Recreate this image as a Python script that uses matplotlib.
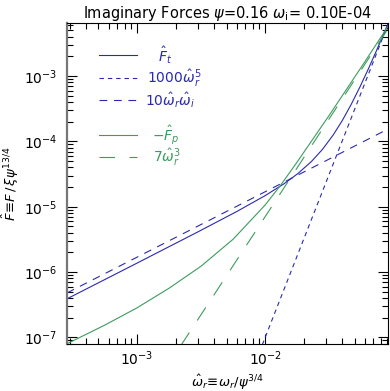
import matplotlib
matplotlib.use("Agg")
import matplotlib.pyplot as plt

plt.rcParams['font.family'] = ['DejaVu Sans']
plt.rcParams['mathtext.fontset'] = 'dejavusans'

BLUE = '#2a2ab0'
GREEN = '#3c9c5c'

# values
x_ft = [2.85e-4, 1e-3, 3e-3, 6e-3, 0.01, 0.014, 0.018, 0.023, 0.028, 0.034,
        0.04, 0.047, 0.055, 0.064, 0.073, 0.082, 0.091]
y_ft = [3.9e-7, 1.37e-6, 4.14e-6, 8.44e-6, 1.48e-5, 2.24e-5, 3.22e-5, 4.94e-5, 7.55e-5, 1.26e-4,
        2.09e-4, 3.71e-4, 6.87e-4, 1.30e-3, 2.32e-3, 3.94e-3, 6.4e-3]

x_w5 = [0.0095, 0.092]
y_w5 = [7.7e-8, 6.6e-3]

x_wwi = [2.85e-4, 0.091]
y_wwi = [4.8e-7, 1.55e-4]

x_fp = [2.85e-4, 5.62e-4, 1e-3, 1.778e-3, 3.162e-3, 5.623e-3, 0.01, 0.0131, 0.01778, 0.03162, 0.05623, 0.0912]
y_fp = [8.0e-8, 1.545e-7, 2.83e-7, 5.65e-7, 1.23e-6, 3.18e-6, 1.064e-5, 2.09e-5, 4.85e-5, 2.51e-4, 1.37e-3, 5.83e-3]

x_w3 = [2.2e-3, 0.091]
y_w3 = [7.5e-8, 5.3e-3]

legend_labels = [r'$\hat{F}_t$', r'$1000\hat{\omega}_r^5$', r'$10\hat{\omega}_r\hat{\omega}_i$',
                 r'$-\hat{F}_p$', r'$7\hat{\omega}_r^3$']

fig = plt.figure(figsize=(3.9, 3.91), dpi=100)
ax = fig.add_axes([0.172, 0.120, 0.823, 0.820])

lw = 0.8
d_w5 = (4, 3.5)
d_wwi = (7, 6)
d_w3 = (14, 13)
ax.plot(x_ft, y_ft, color=BLUE, lw=lw)
ax.plot(x_w5, y_w5, color=BLUE, lw=lw, dashes=d_w5)
ax.plot(x_wwi, y_wwi, color=BLUE, lw=lw, dashes=d_wwi)
ax.plot(x_fp, y_fp, color=GREEN, lw=lw)
ax.plot(x_w3, y_w3, color=GREEN, lw=lw, dashes=d_w3)

ax.set_xscale('log')
ax.set_yscale('log')
ax.set_xlim(2.85e-4, 0.091)
ax.set_ylim(7.9e-8, 6.4e-3)

ax.tick_params(which='both', direction='in', top=True, right=True, labelsize=10)
ax.tick_params(which='major', length=7, width=0.8)
ax.tick_params(which='minor', length=4, width=0.8)
ax.tick_params(axis='y', which='major', pad=7)
ax.spines['left'].set_color('#777777')
ax.spines['left'].set_linewidth(1.6)

ax.set_title(r'Imaginary Forces $\psi$=0.16 $\omega_\mathrm{i}$= 0.10E-04', fontsize=10.5, pad=4)
ax.set_xlabel(r'$\hat{\omega}_r\!\equiv\!\omega_r/\psi^{3/4}$', fontsize=9.5, labelpad=4)
ax.set_ylabel(r'$\hat{F}\!\equiv\!F\,/\,\xi\psi^{13/4}$', fontsize=9.5, labelpad=2)

# hand-drawn legend in the upper left
rows = [0.902, 0.831, 0.760, 0.651, 0.583]
styles = [dict(color=BLUE), dict(color=BLUE, dashes=d_w5), dict(color=BLUE, dashes=d_wwi),
          dict(color=GREEN), dict(color=GREEN, dashes=d_w3)]
text_x = [0.283, 0.248, 0.243, 0.264, 0.267]
colors = [BLUE, BLUE, BLUE, GREEN, GREEN]
for y, st, lab, tx, c in zip(rows, styles, legend_labels, text_x, colors):
    ax.plot([0.1006, 0.219], [y, y], transform=ax.transAxes, lw=lw, **st)
    ax.text(tx, y, lab, transform=ax.transAxes, color=c, fontsize=10, va='center', ha='left')

fig.savefig('out.png', dpi=100)
